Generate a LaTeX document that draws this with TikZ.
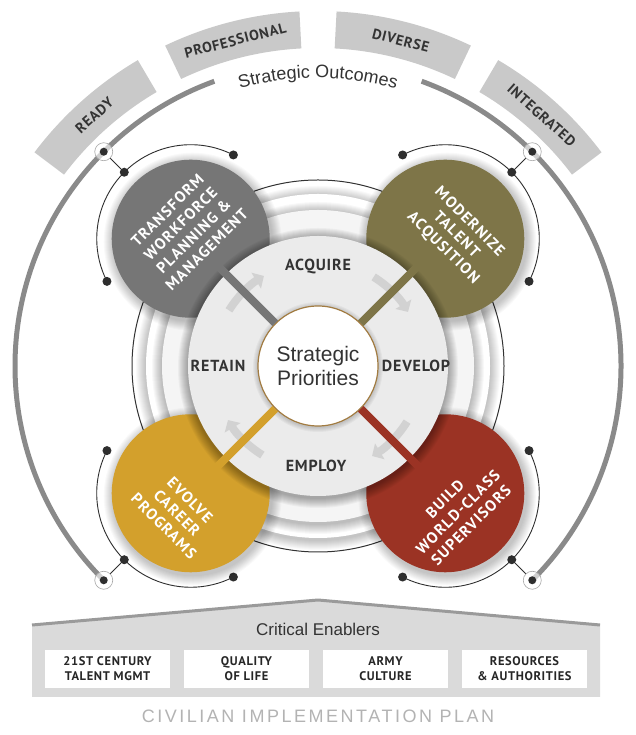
\documentclass[tikz,border=0pt]{standalone}
\usepackage{fontspec}
\setmainfont{Liberation Sans}
\newfontfamily\capfont{PT Sans}[LetterSpace=5]
\newfontfamily\circfont{PT Sans}[LetterSpace=8]
\newfontfamily\planfont{Liberation Sans}[LetterSpace=14]
\usetikzlibrary{calc,arrows.meta,decorations.text}
\definecolor{cgrey}{HTML}{767676}
\definecolor{colive}{HTML}{7E7548}
\definecolor{cgold}{HTML}{D3A02C}
\definecolor{cred}{HTML}{9B3324}
\definecolor{banner}{HTML}{C9C9C9}
\definecolor{bigarc}{HTML}{8A8A8A}
\definecolor{txt}{HTML}{333333}
\definecolor{disk}{HTML}{EBEBEB}
\definecolor{arrowc}{HTML}{D2D2D2}
\definecolor{house}{HTML}{DADADA}
\definecolor{roof}{HTML}{9A9A9A}
\definecolor{plan}{HTML}{B3B3B3}
\definecolor{rimc}{HTML}{A27C42}
\definecolor{dotc}{HTML}{2E2E2E}
\begin{document}
\begin{tikzpicture}[x=1pt,y=1pt,
  dot/.style={circle, fill=dotc, inner sep=0pt, minimum size=9pt},
  hub/.style={circle, draw=gray!70, fill=white, fill opacity=0.6, line width=0.6pt, inner sep=0pt, minimum size=18pt},
  hubdot/.style={circle, fill=dotc, inner sep=0pt, minimum size=8pt},
  thinarc/.style={draw=dotc, line width=0.9pt},
  bigarcst/.style={draw=bigarc, line width=5pt},
  bannertext/.style={text=txt, font=\capfont\bfseries\fontsize{14.5}{16}\selectfont, inner sep=0pt},
  lab/.style={text=txt, font=\capfont\bfseries\fontsize{16}{18}\selectfont, inner sep=0pt},
  ctext/.style={text=white, align=center, inner sep=0pt, font=\circfont\bfseries\fontsize{15.5}{18.5}\selectfont},
  cyc/.style={draw=arrowc, line width=8pt, -{Triangle[length=9pt, width=18pt]}},
  ebox/.style={fill=white, minimum width=125pt, minimum height=38pt, inner sep=0pt, align=center, text=black!85, font=\capfont\bfseries\fontsize{12.5}{15}\selectfont},
  ringline/.style={draw=black!80, line width=1pt}
]
\useasboundingbox (0,0) rectangle (635,735);
\fill[white] (0,0) rectangle (635,735);
\coordinate (C) at (318,369);

% banners
\foreach \s/\e/\m/\t in {120.5/143/131.75/READY, 93/115.5/104.25/PROFESSIONAL, 64.5/87/75.75/DIVERSE, 37/59.5/48.25/INTEGRATED}{
  \fill[banner] ($(C)+(\s:318)$) arc[start angle=\s, end angle=\e, radius=318] -- ($(C)+(\e:355)$) arc[start angle=\e, end angle=\s, radius=355] -- cycle;
  \node[bannertext, rotate=\m-90] (b\t) at ($(C)+(\m:336)$) {\t};
}
\path[decorate, decoration={text along path, text align=center, text={|\fontsize{18}{20}\selectfont\color{txt}|Strategic Outcomes}}] ($(C)+(118:288)$) arc[start angle=118, end angle=62, radius=288];

% big arcs
\draw[bigarcst] ($(C)+(110:303)$) arc[start angle=110, end angle=225, radius=303];
\draw[bigarcst] ($(C)+(70:303)$) arc[start angle=70, end angle=-45, radius=303];

% thin arcs, dots, hubs
\foreach \n/\a in {tl/135, tr/45, bl/225, br/315}{
  \coordinate (P\n) at ($(C)+(\a:180)$);
  \pgfmathsetmacro\sa{\a-72}
  \pgfmathsetmacro\ea{\a+72}
  \draw[thinarc] ($(P\n)+(\sa:94)$) arc[start angle=\sa, end angle=\ea, radius=94];
  \node[dot] (ds\n) at ($(P\n)+(\sa:94)$) {};
  \node[dot] (de\n) at ($(P\n)+(\ea:94)$) {};
  \node[dot] (dm\n) at ($(P\n)+(\a:94)$) {};
  \node[hub] (h\n) at ($(C)+(\a:303)$) {};
  \node[hubdot] (hd\n) at (h\n) {};
  \draw[thinarc] (dm\n) -- (h\n);
}

% rings
\fill[white] (C) circle (186);
\draw[ringline] (C) circle (186);
\foreach \k in {1,...,10} \fill[black, opacity=0.025] ($(C)+(0,-2)$) circle (172+\k);
\fill[white] (C) circle (172);
\foreach \k in {1,...,10} \fill[black, opacity=0.028] ($(C)+(0,-2)$) circle (156+\k);
\fill[white!96!black] (C) circle (156);

% coloured circles
\foreach \n/\col in {tl/cgrey, tr/colive, bl/cgold, br/cred}{
  \foreach \k in {1,...,10} \fill[black, opacity=0.025] ($(P\n)+(2,-3)$) circle (79+\k);
  \node[circle, fill=\col, minimum size=158pt, inner sep=0pt] (c\n) at (P\n) {};
}

% central disk
\foreach \k in {1,...,10} \fill[black, opacity=0.035] ($(C)+(0,-2)$) circle (130+\k);
\node[circle, fill=disk, minimum size=260pt, inner sep=0pt] (D) at (C) {};

% cycle arrows
\foreach \s/\e in {148/121, 58/31, -32/-59, 238/211}
  \draw[cyc] ($(C)+(\s:105)$) arc[start angle=\s, end angle=\e, radius=105];

% centre
\foreach \k in {1,...,5} \fill[black, opacity=0.035] ($(C)+(0,-1)$) circle (60+\k);
\node[circle, fill=white, draw=rimc, line width=1.2pt, minimum size=120pt, inner sep=0pt, align=center, text=txt, font=\fontsize{21}{24}\selectfont] (SP) at (C) {Strategic\\Priorities};

% spokes
\foreach \n/\col in {tl/cgrey, tr/colive, bl/cgold, br/cred}
  \draw[line width=8pt, draw=\col, shorten >=28pt] (SP) -- (P\n);

% labels
\node[lab] (acq) at (318,468) {ACQUIRE};
\node[lab] (ret) at (218,369) {RETAIN};
\node[lab] (dev) at (416,369) {DEVELOP};
\node[lab] (emp) at (316,269) {EMPLOY};

% circle texts
\node[ctext, rotate=45] (ttl) at (187,505) {TRANSFORM\\WORKFORCE\\PLANNING \&\\MANAGEMENT};
\node[ctext, rotate=-45] (ttr) at (456,500) {MODERNIZE\\TALENT\\ACQUSITION};
\node[ctext, rotate=-45] (tbl) at (177,222) {EVOLVE\\CAREER\\PROGRAMS};
\node[ctext, rotate=45] (tbr) at (458,223) {BUILD\\WORLD-CLASS\\SUPERVISORS};

% critical enablers
\fill[house] (32,38) -- (32,110) -- (318,135) -- (600,110) -- (600,38) -- cycle;
\draw[roof, line width=3pt, line join=round] (32,110) -- (318,135) -- (600,110);
\node[text=txt, font=\fontsize{17}{19}\selectfont] (ce) at (318,106) {Critical Enablers};
\node[ebox] (e1) at (107.5,66) {21ST CENTURY\\TALENT MGMT};
\node[ebox] (e2) at (246.5,66) {QUALITY\\OF LIFE};
\node[ebox] (e3) at (385.5,66) {ARMY\\CULTURE};
\node[ebox] (e4) at (524.5,66) {RESOURCES\\\& AUTHORITIES};
\node[text=plan, font=\planfont\fontsize{18}{20}\selectfont] (cip) at (318,19) {CIVILIAN IMPLEMENTATION PLAN};
\end{tikzpicture}
\end{document}
